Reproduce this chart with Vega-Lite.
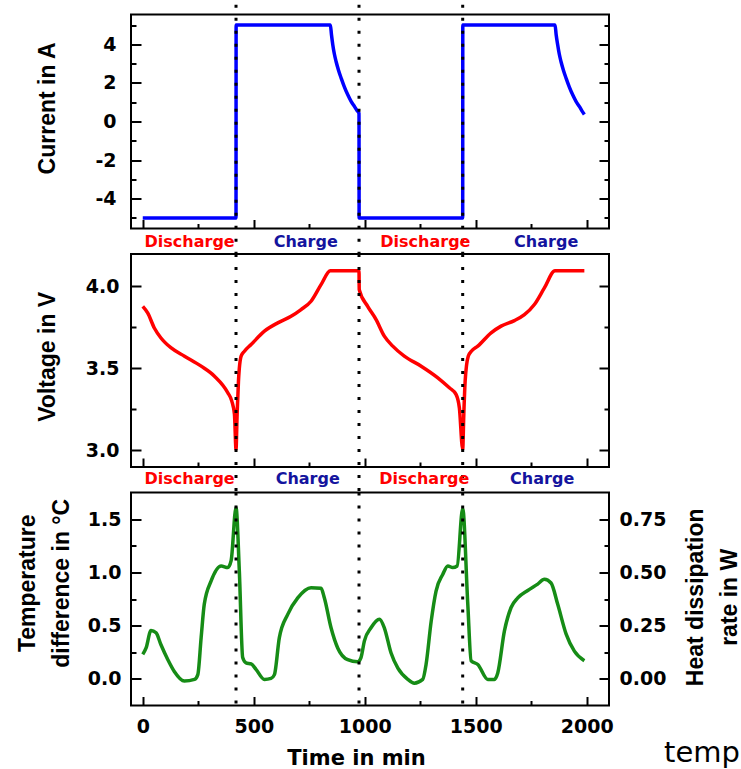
{
  "$schema": "https://vega.github.io/schema/vega-lite/v6.json",
  "padding": {"left": 15, "top": 1.5, "right": 0, "bottom": 0},
  "background": "white",
  "bounds": "flush",
  "spacing": 25.5,
  "config": {
    "view": {"stroke": "black", "strokeWidth": 2},
    "axis": {"grid": false, "domain": false, "tickColor": "black", "tickWidth": 2, "labelFont": "DejaVu Sans", "labelFontWeight": "bold", "labelFontSize": 19, "labelColor": "black", "titleColor": "black"}
  },
  "datasets": {
    "current": [
      {"t": 0, "v": -5}, {"t": 420, "v": -5}, {"t": 420.5, "v": 5}, {"t": 845, "v": 5}, {"t": 850, "v": 4.5}, {"t": 856, "v": 3.97}, {"t": 863, "v": 3.5}, {"t": 871, "v": 3.1}, {"t": 882, "v": 2.65}, {"t": 894, "v": 2.24}, {"t": 908, "v": 1.8}, {"t": 924, "v": 1.37}, {"t": 939, "v": 1.03}, {"t": 954, "v": 0.77}, {"t": 965, "v": 0.57}, {"t": 974, "v": 0.42}, {"t": 974.5, "v": -5}, {"t": 1441, "v": -5}, {"t": 1441.5, "v": 5}, {"t": 1857, "v": 5}, {"t": 1862, "v": 4.5}, {"t": 1869, "v": 3.97}, {"t": 1876, "v": 3.5}, {"t": 1884, "v": 3.1}, {"t": 1895, "v": 2.65}, {"t": 1907, "v": 2.24}, {"t": 1921, "v": 1.8}, {"t": 1937, "v": 1.37}, {"t": 1952, "v": 1.03}, {"t": 1967, "v": 0.77}, {"t": 1978, "v": 0.55}, {"t": 1989, "v": 0.36}
    ],
    "voltage": [
      {"t": 0, "v": 3.878}, {"t": 22, "v": 3.838}, {"t": 52, "v": 3.746}, {"t": 82, "v": 3.685}, {"t": 128, "v": 3.624}, {"t": 188, "v": 3.574}, {"t": 263, "v": 3.513}, {"t": 323, "v": 3.452}, {"t": 383, "v": 3.351}, {"t": 401, "v": 3.3}, {"t": 413, "v": 3.219}, {"t": 420, "v": 3.006},
      {"t": 425, "v": 3.219}, {"t": 431, "v": 3.42}, {"t": 443, "v": 3.574}, {"t": 458, "v": 3.604}, {"t": 488, "v": 3.645}, {"t": 548, "v": 3.726}, {"t": 608, "v": 3.777}, {"t": 668, "v": 3.817}, {"t": 713, "v": 3.858}, {"t": 758, "v": 3.909}, {"t": 803, "v": 4.01}, {"t": 845, "v": 4.095}, {"t": 974, "v": 4.095},
      {"t": 975, "v": 3.98}, {"t": 1013, "v": 3.878}, {"t": 1051, "v": 3.797}, {"t": 1088, "v": 3.696}, {"t": 1126, "v": 3.635}, {"t": 1178, "v": 3.574}, {"t": 1254, "v": 3.513}, {"t": 1329, "v": 3.442}, {"t": 1381, "v": 3.381}, {"t": 1411, "v": 3.341}, {"t": 1426, "v": 3.259}, {"t": 1441, "v": 3.006},
      {"t": 1446, "v": 3.219}, {"t": 1452, "v": 3.42}, {"t": 1466, "v": 3.574}, {"t": 1480, "v": 3.604}, {"t": 1509, "v": 3.635}, {"t": 1569, "v": 3.716}, {"t": 1614, "v": 3.757}, {"t": 1674, "v": 3.791}, {"t": 1719, "v": 3.827}, {"t": 1764, "v": 3.889}, {"t": 1809, "v": 3.99}, {"t": 1857, "v": 4.095}, {"t": 1989, "v": 4.095}
    ],
    "temperature": [
      {"t": 0, "v": 0.23}, {"t": 15, "v": 0.29}, {"t": 37, "v": 0.455}, {"t": 60, "v": 0.433}, {"t": 82, "v": 0.32}, {"t": 113, "v": 0.18}, {"t": 142, "v": 0.07}, {"t": 187, "v": -0.02}, {"t": 233, "v": -0.005}, {"t": 248, "v": 0.04}, {"t": 263, "v": 0.39}, {"t": 277, "v": 0.7}, {"t": 308, "v": 0.92}, {"t": 353, "v": 1.06}, {"t": 383, "v": 1.045}, {"t": 398, "v": 1.11}, {"t": 420, "v": 1.61}, {"t": 435, "v": 1.01}, {"t": 450, "v": 0.2}, {"t": 465, "v": 0.15}, {"t": 488, "v": 0.14}, {"t": 510, "v": 0.09}, {"t": 548, "v": -0.005}, {"t": 578, "v": 0.005}, {"t": 593, "v": 0.04}, {"t": 615, "v": 0.385}, {"t": 653, "v": 0.606}, {"t": 698, "v": 0.76}, {"t": 758, "v": 0.856}, {"t": 803, "v": 0.85}, {"t": 818, "v": 0.76}, {"t": 848, "v": 0.48}, {"t": 878, "v": 0.29}, {"t": 923, "v": 0.18}, {"t": 968, "v": 0.16}, {"t": 983, "v": 0.2}, {"t": 998, "v": 0.355}, {"t": 1028, "v": 0.48}, {"t": 1066, "v": 0.56}, {"t": 1088, "v": 0.48}, {"t": 1118, "v": 0.245}, {"t": 1149, "v": 0.1}, {"t": 1194, "v": -0.005}, {"t": 1223, "v": -0.04}, {"t": 1261, "v": -0.005}, {"t": 1276, "v": 0.135}, {"t": 1299, "v": 0.54}, {"t": 1321, "v": 0.825}, {"t": 1351, "v": 0.98}, {"t": 1374, "v": 1.06}, {"t": 1396, "v": 1.045}, {"t": 1416, "v": 1.06}, {"t": 1441, "v": 1.6}, {"t": 1464, "v": 0.7}, {"t": 1479, "v": 0.17}, {"t": 1509, "v": 0.135}, {"t": 1554, "v": -0.005}, {"t": 1584, "v": -0.005}, {"t": 1599, "v": 0.056}, {"t": 1629, "v": 0.45}, {"t": 1659, "v": 0.67}, {"t": 1689, "v": 0.76}, {"t": 1734, "v": 0.83}, {"t": 1779, "v": 0.89}, {"t": 1809, "v": 0.935}, {"t": 1839, "v": 0.9}, {"t": 1869, "v": 0.7}, {"t": 1907, "v": 0.42}, {"t": 1944, "v": 0.26}, {"t": 1989, "v": 0.17}
    ],
    "dividers": [{"t": 420}, {"t": 974}, {"t": 1441}],
    "phases1": [{"t": 211, "label": "Discharge"}, {"t": 734, "label": "Charge"}, {"t": 1273, "label": "Discharge"}, {"t": 1817, "label": "Charge"}],
    "phases2": [{"t": 211, "label": "Discharge"}, {"t": 743, "label": "Charge"}, {"t": 1268, "label": "Discharge"}, {"t": 1799, "label": "Charge"}],
    "heat": [{"h": 0}, {"h": 0.75}],
    "caption": [{"word": "temp"}]
  },
  "vconcat": [
    {
      "width": 478, "height": 214,
      "resolve": {"axis": {"x": "independent", "y": "independent"}},
      "layer": [
        {
          "data": {"name": "current"},
          "mark": {"type": "line", "color": "#0000FF", "strokeWidth": 3.5, "interpolate": "monotone"},
          "encoding": {
            "x": {"field": "t", "type": "quantitative", "scale": {"domain": [-53, 2100], "nice": false, "zero": false}, "axis": {"orient": "bottom", "values": [0, 500, 1000, 1500, 2000], "labels": false, "tickSize": -9, "title": null}},
            "y": {"field": "v", "type": "quantitative", "scale": {"domain": [-5.55, 5.55], "nice": false, "zero": false}, "axis": {"orient": "left", "values": [-4, -2, 0, 2, 4], "labelExpr": "'' + datum.value", "tickSize": -10, "labelPadding": 25, "title": "Current in A", "titleFont": "Liberation Sans", "titleFontSize": 23, "titleFontWeight": "bold", "titleAngle": -90, "titleX": -77, "titleY": 93.4, "titleAlign": "center", "titleBaseline": "alphabetic"}}
          }
        },
        {
          "data": {"name": "dividers"},
          "mark": {"type": "rule", "color": "black", "strokeWidth": 3, "strokeDash": [3, 10]},
          "encoding": {
            "x": {"field": "t", "type": "quantitative", "axis": {"orient": "bottom", "values": [250, 750, 1250, 1750], "labels": false, "tickSize": -5, "title": null}},
            "y": {"datum": 6.06, "type": "quantitative", "axis": {"orient": "left", "values": [-5, -3, -1, 1, 3, 5], "labels": false, "tickSize": -5, "title": null}},
            "y2": {"datum": -6.87}
          }
        },
        {
          "data": {"name": "phases1"},
          "transform": [{"filter": "datum.label === 'Discharge'"}],
          "mark": {"type": "text", "color": "#FF0000", "font": "DejaVu Sans", "fontWeight": "bold", "fontSize": 16, "align": "center", "baseline": "alphabetic"},
          "encoding": {
            "x": {"field": "t", "type": "quantitative", "axis": null},
            "y": {"datum": -6.51, "type": "quantitative", "axis": {"orient": "right", "values": [-4, -2, 0, 2, 4], "labels": false, "tickSize": -10, "title": null}},
            "text": {"field": "label"}
          }
        },
        {
          "data": {"name": "phases1"},
          "transform": [{"filter": "datum.label === 'Charge'"}],
          "mark": {"type": "text", "color": "#14149E", "font": "DejaVu Sans", "fontWeight": "bold", "fontSize": 16, "align": "center", "baseline": "alphabetic"},
          "encoding": {
            "x": {"field": "t", "type": "quantitative", "axis": null},
            "y": {"datum": -6.51, "type": "quantitative", "axis": {"orient": "right", "values": [-5, -3, -1, 1, 3, 5], "labels": false, "tickSize": -5, "title": null}},
            "text": {"field": "label"}
          }
        }
      ]
    },
    {
      "width": 478, "height": 213,
      "resolve": {"axis": {"x": "independent", "y": "independent"}},
      "layer": [
        {
          "data": {"name": "voltage"},
          "mark": {"type": "line", "color": "#FF0000", "strokeWidth": 3.5, "interpolate": "monotone"},
          "encoding": {
            "x": {"field": "t", "type": "quantitative", "scale": {"domain": [-53, 2100], "nice": false, "zero": false}, "axis": {"orient": "bottom", "values": [0, 500, 1000, 1500, 2000], "labels": false, "tickSize": -9, "title": null}},
            "y": {"field": "v", "type": "quantitative", "scale": {"domain": [2.898, 4.197], "nice": false, "zero": false}, "axis": {"orient": "left", "values": [3.0, 3.5, 4.0], "format": ".1f", "tickSize": -10, "labelPadding": 22, "title": "Voltage in V", "titleFont": "Liberation Sans", "titleFontSize": 23, "titleFontWeight": "bold", "titleAngle": -90, "titleX": -77, "titleY": 102.3, "titleAlign": "center", "titleBaseline": "alphabetic"}}
          }
        },
        {
          "data": {"name": "dividers"},
          "mark": {"type": "rule", "color": "black", "strokeWidth": 3, "strokeDash": [3, 10]},
          "encoding": {
            "x": {"field": "t", "type": "quantitative", "axis": {"orient": "bottom", "values": [250, 750, 1250, 1750], "labels": false, "tickSize": -5, "title": null}},
            "y": {"datum": 4.197, "type": "quantitative", "axis": {"orient": "left", "values": [3.25, 3.75], "labels": false, "tickSize": -5, "title": null}},
            "y2": {"datum": 2.742}
          }
        },
        {
          "data": {"name": "phases2"},
          "transform": [{"filter": "datum.label === 'Discharge'"}],
          "mark": {"type": "text", "color": "#FF0000", "font": "DejaVu Sans", "fontWeight": "bold", "fontSize": 16, "align": "center", "baseline": "alphabetic"},
          "encoding": {
            "x": {"field": "t", "type": "quantitative", "axis": null},
            "y": {"datum": 2.795, "type": "quantitative", "axis": {"orient": "right", "values": [3.0, 3.5, 4.0], "labels": false, "tickSize": -10, "title": null}},
            "text": {"field": "label"}
          }
        },
        {
          "data": {"name": "phases2"},
          "transform": [{"filter": "datum.label === 'Charge'"}],
          "mark": {"type": "text", "color": "#14149E", "font": "DejaVu Sans", "fontWeight": "bold", "fontSize": 16, "align": "center", "baseline": "alphabetic"},
          "encoding": {
            "x": {"field": "t", "type": "quantitative", "axis": null},
            "y": {"datum": 2.795, "type": "quantitative", "axis": {"orient": "right", "values": [3.25, 3.75], "labels": false, "tickSize": -5, "title": null}},
            "text": {"field": "label"}
          }
        }
      ]
    },
    {
      "width": 478, "height": 213,
      "resolve": {"scale": {"y": "independent"}, "axis": {"x": "independent", "y": "independent"}},
      "layer": [
        {
          "data": {"name": "temperature"},
          "mark": {"type": "line", "color": "#168C16", "strokeWidth": 3.5, "interpolate": "monotone"},
          "encoding": {
            "x": {"field": "t", "type": "quantitative", "scale": {"domain": [-53, 2100], "nice": false, "zero": false}, "axis": {"orient": "bottom", "values": [0, 500, 1000, 1500, 2000], "format": "d", "tickSize": -9, "labelPadding": 21, "title": "Time in min", "titleFont": "DejaVu Sans", "titleFontSize": 21, "titleFontWeight": "bold", "titleX": 225, "titleY": 58.5, "titleAlign": "center", "titleBaseline": "alphabetic"}},
            "y": {"field": "v", "type": "quantitative", "scale": {"domain": [-0.25, 1.75], "nice": false, "zero": false}, "axis": {"orient": "left", "values": [0, 0.5, 1.0, 1.5], "format": ".1f", "tickSize": -10, "labelPadding": 20, "title": ["Temperature", "difference in °C"], "titleLineHeight": 34, "titleFont": "Liberation Sans", "titleFontSize": 23, "titleFontWeight": "bold", "titleAngle": -90, "titleX": -96.7, "titleY": 90.3, "titleAlign": "center", "titleBaseline": "alphabetic"}}
          }
        },
        {
          "data": {"name": "dividers"},
          "mark": {"type": "rule", "color": "black", "strokeWidth": 3, "strokeDash": [3, 10]},
          "encoding": {
            "x": {"field": "t", "type": "quantitative", "axis": {"orient": "bottom", "values": [250, 750, 1250, 1750], "labels": false, "tickSize": -5, "title": null}},
            "y": {"datum": 1.75, "type": "quantitative", "scale": {"domain": [-0.25, 1.75], "nice": false, "zero": false}, "axis": {"orient": "left", "values": [0.25, 0.75, 1.25], "labels": false, "tickSize": -5, "title": null}},
            "y2": {"datum": -0.25}
          }
        },
        {
          "data": {"name": "heat"},
          "mark": {"type": "point", "opacity": 0, "size": 1},
          "encoding": {
            "y": {"field": "h", "type": "quantitative", "scale": {"domain": [-0.125, 0.875], "nice": false, "zero": false}, "axis": {"orient": "right", "values": [0, 0.25, 0.5, 0.75], "format": ".2f", "tickSize": -10, "labelPadding": 20, "title": ["Heat dissipation", "rate in W"], "titleLineHeight": 34, "titleFont": "Liberation Sans", "titleFontSize": 23, "titleFontWeight": "bold", "titleAngle": -90, "titleX": 93.7, "titleY": 104.3, "titleAlign": "center", "titleBaseline": "alphabetic"}}
          }
        },
        {
          "data": {"name": "heat"},
          "mark": {"type": "point", "opacity": 0, "size": 1},
          "encoding": {
            "y": {"field": "h", "type": "quantitative", "scale": {"domain": [-0.125, 0.875], "nice": false, "zero": false}, "axis": {"orient": "right", "values": [0.125, 0.375, 0.625], "labels": false, "tickSize": -5, "title": null}}
          }
        },
        {
          "data": {"name": "caption"},
          "mark": {"type": "text", "color": "black", "font": "DejaVu Sans", "fontSize": 29, "align": "left", "baseline": "bottom"},
          "encoding": {
            "x": {"datum": 2348, "type": "quantitative", "axis": null},
            "y": {"datum": -0.84, "type": "quantitative", "scale": {"domain": [-0.25, 1.75], "nice": false, "zero": false}, "axis": null},
            "text": {"field": "word"}
          }
        }
      ]
    }
  ]
}
